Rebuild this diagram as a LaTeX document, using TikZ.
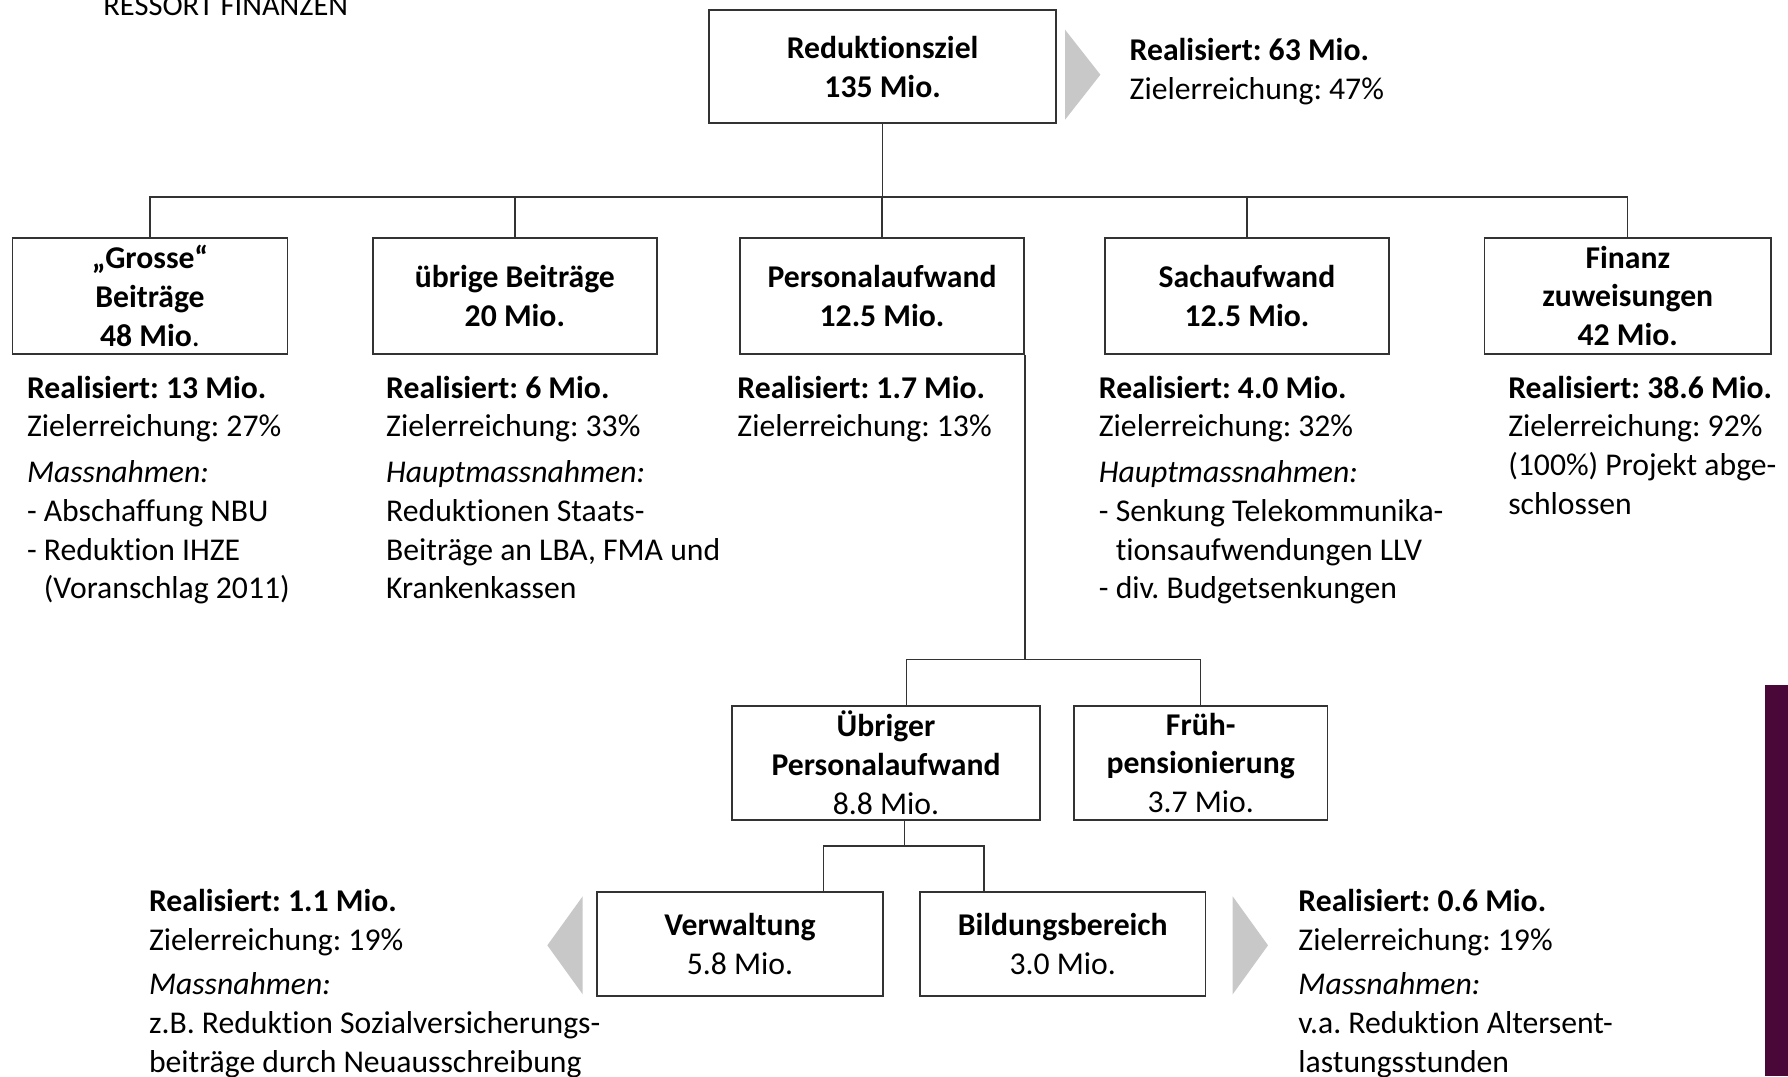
\documentclass[tikz,border=0pt]{standalone}
\usepackage{fontspec}
\setmainfont{Carlito}[Ligatures={TeX,NoCommon}]
\usetikzlibrary{calc}
\definecolor{arrowgray}{RGB}{200,200,200}
\definecolor{stripviolet}{RGB}{74,8,56}
\frenchspacing

\begin{document}
\begin{tikzpicture}
    [x=0.01cm,y=-0.01cm,
     every node/.style={font=\fontsize{7.9}{9.65}\selectfont, inner sep=0pt},
     box/.style={draw=black!80, line width=0.4pt, align=center, minimum height=1.02cm},
     info/.style={align=left, anchor=north west},
     link/.style={draw=black!80, line width=0.35pt}]
  \useasboundingbox (0,0) rectangle (1568,944);

  \node[anchor=base west, font=\fontsize{7.6}{9}\selectfont] (ressort) at (90,14) {RESSORT FINANZEN};

  % Ziel
  \node[box, minimum width=3.04cm, minimum height=0.99cm] (top) at (774,58.5) {\textbf{Reduktionsziel}\\\textbf{135 Mio.}};
  \fill[arrowgray] (934,26) -- (965,65.5) -- (934,105) -- cycle;
  \node[info] (top info) at (990,33) {\textbf{Realisiert: 63 Mio.}\\Zielerreichung: 47\%};

  % Bereiche
  \node[box, minimum width=2.41cm] (b1) at (131.5,259.5) {\textbf{„Grosse“}\\\textbf{Beiträge}\\\textbf{48 Mio}.};
  \node[box, minimum width=2.49cm] (b2) at (451.5,259.5) {\textbf{übrige Beiträge}\\\textbf{20 Mio.}};
  \node[box, minimum width=2.49cm] (b3) at (773.5,259.5) {\textbf{Personalaufwand}\\\textbf{12.5 Mio.}};
  \node[box, minimum width=2.49cm] (b4) at (1093.5,259.5) {\textbf{Sachaufwand}\\\textbf{12.5 Mio.}};
  \node[box, minimum width=2.51cm] (b5) at (1427.5,259.5) {\textbf{Finanz}\\\textbf{zuweisungen}\\\textbf{42 Mio.}};

  \coordinate (topbar) at ($(top.south)+(0,64)$);
  \foreach \b in {b1,b2,b3,b4,b5}
    \draw[link] (top.south) -- (topbar) -| (\b.north);

  \node[info] (b1 info) at (23,329) {\textbf{Realisiert: 13 Mio.}\\Zielerreichung: 27\%\\[1.8pt]
    \textit{Massnahmen:}\\- Abschaffung NBU\\- Reduktion IHZE\\\hphantom{-}\ (Voranschlag 2011)};
  \node[info] (b2 info) at (338,329) {\textbf{Realisiert: 6 Mio.}\\Zielerreichung: 33\%\\[1.8pt]
    \textit{Hauptmassnahmen:}\\Reduktionen Staats-\\Beiträge an LBA, FMA und\\Krankenkassen};
  \node[info] (b3 info) at (646,329) {\textbf{Realisiert: 1.7 Mio.}\\Zielerreichung: 13\%};
  \node[info] (b4 info) at (963,329) {\textbf{Realisiert: 4.0 Mio.}\\Zielerreichung: 32\%\\[1.8pt]
    \textit{Hauptmassnahmen:}\\- Senkung Telekommunika-\\\hphantom{-}\ tionsaufwendungen LLV\\- div. Budgetsenkungen};
  \node[info] (b5 info) at (1322,329) {\textbf{Realisiert: 38.6 Mio.}\\Zielerreichung: 92\%\\(100\%) Projekt abge-\\schlossen};

  % Personalaufwand
  \node[box, minimum width=2.70cm, minimum height=1.00cm] (c1) at (777,669) {\textbf{Übriger}\\\textbf{Personalaufwand}\\8.8 Mio.};
  \node[box, minimum width=2.22cm, minimum height=1.00cm] (c2) at (1053,669) {\textbf{Früh-}\\\textbf{pensionierung}\\3.7 Mio.};

  \draw[link] (b3.south east) -- ++(0,267) coordinate (pbar);
  \draw[link] ($(c1.north)+(18,0)$) |- (pbar) -| (c2.north);

  \node[box, minimum width=2.51cm, minimum height=0.91cm] (d1) at (649,828) {\textbf{Verwaltung}\\5.8 Mio.};
  \node[box, minimum width=2.50cm, minimum height=0.91cm] (d2) at (932,828) {\textbf{Bildungsbereich}\\3.0 Mio.};

  \draw[link] ($(c1.south)+(16,0)$) -- ++(0,22) coordinate (vbar);
  \draw[link] ($(d1.north)+(73,0)$) |- (vbar) -| ($(d2.north)+(-69,0)$);

  \fill[arrowgray] (511,786) -- (480,829) -- (511,872) -- cycle;
  \fill[arrowgray] (1081,786) -- (1112,829) -- (1081,872) -- cycle;

  \node[info] (d1 info) at (130,779) {\textbf{Realisiert: 1.1 Mio.}\\Zielerreichung: 19\%\\[1.5pt]
    \textit{Massnahmen:}\\z.B. Reduktion Sozialversicherungs-\\beiträge durch Neuausschreibung};
  \node[info] (d2 info) at (1138,779) {\textbf{Realisiert: 0.6 Mio.}\\Zielerreichung: 19\%\\[1.5pt]
    \textit{Massnahmen:}\\v.a. Reduktion Altersent-\\lastungsstunden};

  \fill[stripviolet] (1548,601) rectangle (1568,944);
\end{tikzpicture}
\end{document}
